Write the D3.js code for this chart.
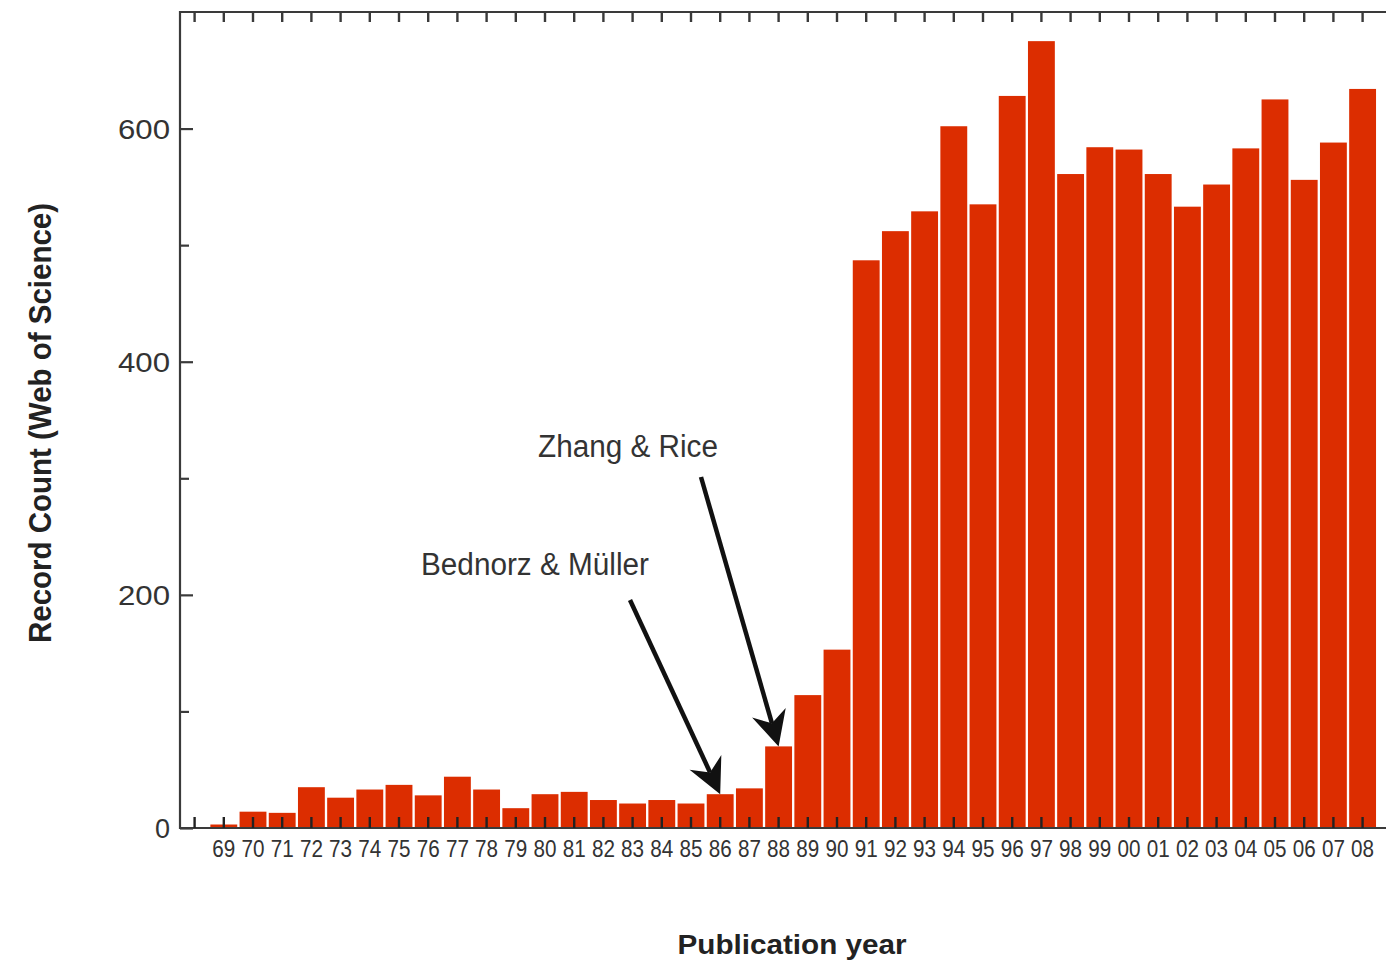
<!DOCTYPE html>
<html>
<head>
<meta charset="utf-8">
<script src="https://cdn.jsdelivr.net/npm/d3@7/dist/d3.min.js"></script>
<style>
  html, body { margin: 0; padding: 0; background: #fff; }
  svg { display: block; font-family: "Liberation Sans", Arial, Helvetica, sans-serif; }
</style>
</head>
<body>
<svg id="chart" width="1386" height="966"></svg>
<script>
// Publication years (two-digit), one leading empty slot before 1969
const emptySlot = "68";
const years = ["69","70","71","72","73","74","75","76","77","78","79",
               "80","81","82","83","84","85","86","87","88","89",
               "90","91","92","93","94","95","96","97","98","99",
               "00","01","02","03","04","05","06","07","08"];
// Record counts per year (Web of Science)
const counts = [3,14,13,35,26,33,37,28,44,33,17,
                29,31,24,21,24,21,29,34,70,114,
                153,487,512,529,602,535,628,675,561,584,
                582,561,533,552,583,625,556,588,634];
const yMajorTicks = [0, 200, 400, 600];
const yMinorTicks = [100, 300, 500];
// Annotated papers: year of the bar pointed at, label and tail of the arrow
const notes = [
  { year: "86", label: "Bednorz & Müller", textX: 421, textY: 575, tailX: 630, tailY: 600, width: 228 },
  { year: "88", label: "Zhang & Rice",     textX: 538, textY: 457, tailX: 701, tailY: 477, width: 180 }
];

const W = 1386, H = 966;
const plotLeft = 180, plotTop = 12, plotBottom = 828;
const step = 29.2;
const slots = [emptySlot].concat(years);
const data = years.map((y, i) => ({ year: y, value: counts[i] }));

const svg = d3.select("#chart");
const axisColor = "#3a3a3a";

const x = d3.scaleBand()
  .domain(slots)
  .range([plotLeft, plotLeft + step * slots.length])
  .paddingInner(0.08)
  .paddingOuter(0.04);

const y = d3.scaleLinear().domain([0, 700]).range([plotBottom, plotTop]);

// Bars
svg.append("g").selectAll("rect")
  .data(data)
  .join("rect")
  .attr("x", d => x(d.year))
  .attr("width", x.bandwidth())
  .attr("y", d => y(d.value))
  .attr("height", d => y(0) - y(d.value))
  .attr("fill", "#dc2d00");

// Frame lines
const frame = svg.append("g").attr("stroke", axisColor).attr("stroke-width", 2.2);
frame.append("line").attr("x1", plotLeft).attr("x2", W).attr("y1", plotTop).attr("y2", plotTop);
frame.append("line").attr("x1", plotLeft).attr("x2", W).attr("y1", plotBottom).attr("y2", plotBottom);
frame.append("line").attr("x1", plotLeft).attr("x2", plotLeft).attr("y1", plotTop - 1).attr("y2", plotBottom + 1);

// Bottom axis: inward ticks drawn over the bars
const xAxis = svg.append("g")
  .attr("transform", `translate(0,${plotBottom})`)
  .call(d3.axisBottom(x).tickSize(-11).tickPadding(13)
        .tickFormat(d => d === emptySlot ? "" : d));
xAxis.select(".domain").remove();
xAxis.selectAll(".tick line").attr("stroke", "#222").attr("stroke-width", 2.4);
xAxis.selectAll(".tick text")
  .attr("fill", "#333")
  .attr("font-size", 23)
  .attr("textLength", d => d === emptySlot ? null : 23)
  .attr("lengthAdjust", "spacingAndGlyphs");

// Top axis: ticks only
const xTop = svg.append("g")
  .attr("transform", `translate(0,${plotTop})`)
  .call(d3.axisTop(x).tickSize(-10).tickFormat(""));
xTop.select(".domain").remove();
xTop.selectAll(".tick line").attr("stroke", axisColor).attr("stroke-width", 2.4);

// Left axis: labelled major ticks and short minor ticks
const yAxis = svg.append("g")
  .attr("transform", `translate(${plotLeft},0)`)
  .call(d3.axisLeft(y).tickValues(yMajorTicks).tickSize(-13).tickPadding(10));
yAxis.select(".domain").remove();
yAxis.selectAll(".tick line").attr("stroke", axisColor).attr("stroke-width", 2.2);
yAxis.selectAll(".tick text")
  .attr("fill", "#333")
  .attr("font-size", 27)
  .attr("dy", "0.36em")
  .attr("textLength", d => d === 0 ? null : 52)
  .attr("lengthAdjust", "spacingAndGlyphs");

const yMinor = svg.append("g")
  .attr("transform", `translate(${plotLeft},0)`)
  .call(d3.axisLeft(y).tickValues(yMinorTicks).tickSize(-9).tickFormat(""));
yMinor.select(".domain").remove();
yMinor.selectAll(".tick line").attr("stroke", axisColor).attr("stroke-width", 2.2);

// Axis titles
svg.append("text")
  .attr("x", 792).attr("y", 954)
  .attr("text-anchor", "middle")
  .attr("font-size", 27).attr("font-weight", "bold").attr("fill", "#222")
  .attr("textLength", 229).attr("lengthAdjust", "spacingAndGlyphs")
  .text("Publication year");

svg.append("text")
  .attr("transform", "translate(51,423) rotate(-90)")
  .attr("text-anchor", "middle")
  .attr("font-size", 31).attr("font-weight", "bold").attr("fill", "#222")
  .attr("textLength", 440).attr("lengthAdjust", "spacingAndGlyphs")
  .text("Record Count (Web of Science)");

// Annotations with arrows pointing at the top of the bars
const valueOf = yr => counts[years.indexOf(yr)];
const headLen = 35, headHalf = 17.5, notch = 24;
notes.forEach(n => {
  const tipX = x(n.year) + x.bandwidth() / 2;
  const tipY = y(valueOf(n.year));
  const ang = Math.atan2(tipY - n.tailY, tipX - n.tailX);
  const g = svg.append("g")
    .attr("transform", `translate(${tipX},${tipY}) rotate(${ang * 180 / Math.PI})`);
  const len = Math.hypot(tipX - n.tailX, tipY - n.tailY);
  g.append("line")
    .attr("x1", -len).attr("y1", 0).attr("x2", -notch).attr("y2", 0)
    .attr("stroke", "#111").attr("stroke-width", 4.5);
  g.append("path")
    .attr("d", `M0,0 L${-headLen},${-headHalf} L${-notch},0 L${-headLen},${headHalf} Z`)
    .attr("fill", "#111");
  svg.append("text")
    .attr("x", n.textX).attr("y", n.textY)
    .attr("font-size", 31).attr("fill", "#333")
    .attr("textLength", n.width).attr("lengthAdjust", "spacingAndGlyphs")
    .text(n.label);
});
</script>
</body>
</html>
